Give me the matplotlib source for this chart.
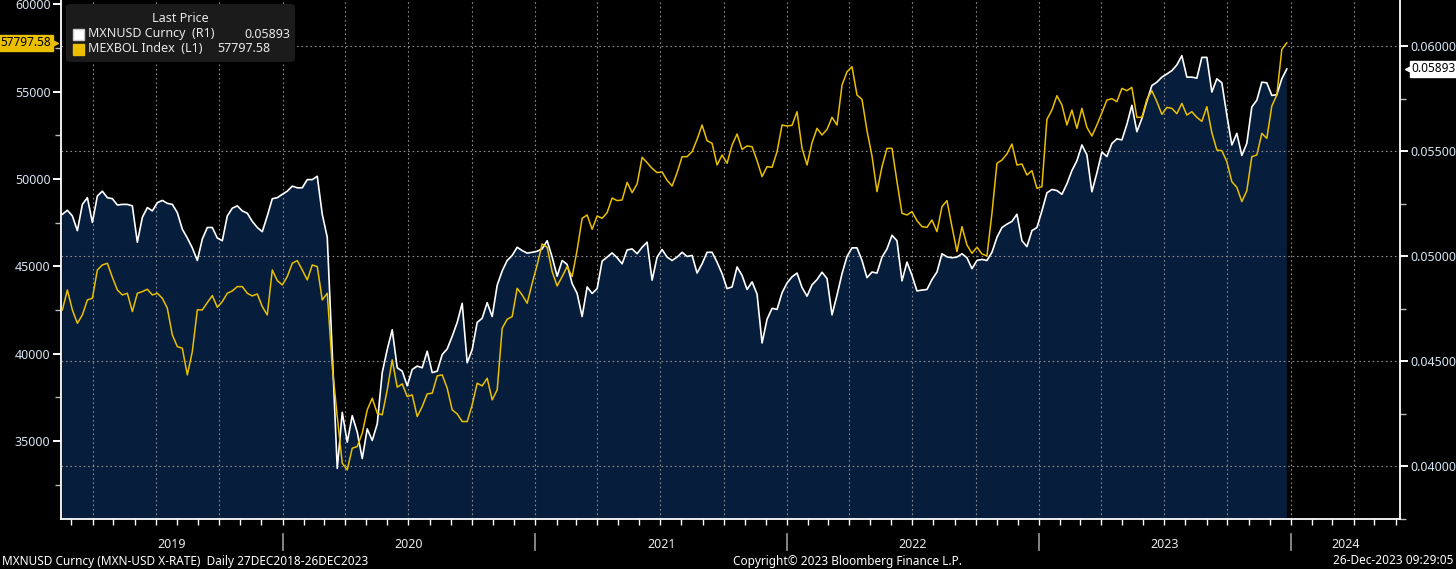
import pandas as pd
import matplotlib
matplotlib.use("Agg")
import matplotlib.pyplot as plt
import matplotlib.dates as mdates
import matplotlib.transforms as mtransforms
from matplotlib.patches import FancyBboxPatch, Rectangle

plt.rcParams['font.family'] = ['Noto Sans', 'DejaVu Sans']

# MXNUSD Curncy (right axis), roughly weekly readings
mxnusd = [
    0.05201, 0.05220, 0.05193, 0.05123, 0.05248, 0.05280, 0.05162, 0.05288, 0.05311, 0.05280,
    0.05275, 0.05245, 0.05248, 0.05248, 0.05241, 0.05068, 0.05186, 0.05233, 0.05217, 0.05256,
    0.05267, 0.05253, 0.05248, 0.05209, 0.05130, 0.05088, 0.05041, 0.04981, 0.05083, 0.05138,
    0.05138, 0.05088, 0.05075, 0.05193, 0.05230, 0.05241, 0.05217, 0.05206, 0.05167, 0.05138,
    0.05118, 0.05193, 0.05275, 0.05280, 0.05296, 0.05311, 0.05335, 0.05327, 0.05327, 0.05366,
    0.05366, 0.05382, 0.05201, 0.05091, 0.04541, 0.03991, 0.04258, 0.04116, 0.04242, 0.04164,
    0.04038, 0.04179, 0.04124, 0.04203,
    0.04447, 0.04557, 0.04651, 0.04470, 0.04454, 0.04384, 0.04462, 0.04478, 0.04470, 0.04549,
    0.04447, 0.04454, 0.04533, 0.04560, 0.04620, 0.04686, 0.04777, 0.04494, 0.04557, 0.04686,
    0.04706, 0.04780, 0.04714, 0.04863, 0.04931, 0.04981, 0.05005, 0.05044, 0.05028, 0.05016,
    0.05020, 0.05025, 0.05036, 0.05075, 0.04997, 0.04906, 0.04981, 0.04962, 0.04871, 0.04824,
    0.04714, 0.04855, 0.04824, 0.04847, 0.04978, 0.04997, 0.05017, 0.04994, 0.04965, 0.05031,
    0.05036, 0.05013, 0.05044, 0.05068, 0.04887, 0.04997, 0.05033, 0.04997, 0.04981, 0.04997,
    0.05020, 0.05000,
    0.05005, 0.04921, 0.04965, 0.05020, 0.05020, 0.04973, 0.04918, 0.04847, 0.04855, 0.04950,
    0.04910, 0.04843, 0.04879, 0.04821, 0.04588, 0.04701, 0.04753, 0.04748, 0.04827, 0.04874,
    0.04903, 0.04921, 0.04852, 0.04811, 0.04865, 0.04890, 0.04925, 0.04895, 0.04722, 0.04816,
    0.04918, 0.05000, 0.05041, 0.05041, 0.04981, 0.04899, 0.04926, 0.04921, 0.04997, 0.05036,
    0.05101, 0.05075, 0.04884, 0.04973, 0.04910, 0.04836, 0.04840, 0.04843, 0.04890, 0.04926,
    0.05013, 0.04998, 0.04994, 0.04997, 0.05013, 0.04994, 0.04942, 0.04981, 0.04986, 0.04981,
    0.05020, 0.05091,
    0.05138, 0.05154, 0.05167, 0.05201, 0.05075, 0.05047, 0.05123, 0.05138, 0.05217, 0.05303,
    0.05319, 0.05314, 0.05296, 0.05346, 0.05409, 0.05456, 0.05531, 0.05484, 0.05308, 0.05398,
    0.05497, 0.05476, 0.05538, 0.05560, 0.05555, 0.05629, 0.05720, 0.05594, 0.05657, 0.05739,
    0.05814, 0.05830, 0.05854, 0.05869, 0.05885, 0.05912, 0.05956, 0.05854, 0.05854, 0.05849,
    0.05948, 0.05948, 0.05783, 0.05846, 0.05827, 0.05673, 0.05531, 0.05586, 0.05481, 0.05539,
    0.05712, 0.05744, 0.05830, 0.05827, 0.05767, 0.05770, 0.05846, 0.05893,
]

# MEXBOL Index (left axis)
mexbol = [
    42502, 43646, 42502, 41738, 42215, 43074, 43169, 44791, 45077, 45173,
    44371, 43646, 43360, 43456, 42406, 43456, 43551, 43685, 43360, 43456,
    43169, 42597, 41071, 40403, 40307, 38781, 40117, 42502, 42502, 42921,
    43322, 42654, 42979, 43456, 43589, 43837, 43837, 43456, 43303, 43417,
    42692, 42215, 44791, 44181, 43933, 44410, 45173, 45325, 44791, 44219,
    45077, 44982, 43074, 43456, 39258, 36396, 33725, 33343, 34583, 34679,
    35442, 36778, 37445, 36587,
    36491, 37922, 39640, 38075, 38266, 37541, 37636, 36396, 36968, 37693,
    37732, 38724, 38781, 38018, 36778, 36549, 36110, 36110, 37064, 38304,
    38151, 38590, 37350, 37922, 41452, 41967, 42120, 43742, 43360, 42883,
    44028, 45077, 46279, 46089, 44696, 43875, 44410, 44982, 44410, 45936,
    47749, 47939, 47119, 47882, 47749, 48073, 48912, 48760, 48798, 49809,
    49218, 49714, 51240, 50935, 50611, 50363, 50401, 49924, 49599, 50363,
    51278, 51278,
    51565, 52271, 53091, 52194, 52042, 50801, 51374, 50897, 51946, 52576,
    51698, 51889, 51851, 51049, 50134, 50706, 50668, 51565, 53091, 53034,
    53072, 53854, 51755, 50801, 52080, 52900, 52519, 52843, 53530, 53091,
    55381, 56140, 56430, 54808, 54560, 52767, 51317, 49275, 50706, 51755,
    51755, 49847, 48035, 47939, 48130, 47615, 47272, 47233, 47653, 46985,
    48416, 48760, 47272, 45841, 47272, 46222, 45745, 46089, 45707, 45593,
    48035, 50897,
    51088, 51431, 52003, 50801, 50859, 50229, 50477, 49466, 49561, 53415,
    53950, 54770, 54236, 53091, 53950, 52900, 54045, 52957, 52461, 53091,
    53797, 54522, 54598, 54427, 55190, 55056, 55247, 53530, 53530, 54560,
    55056, 54427, 53702, 54102, 54045, 53740, 54331, 53663, 53854, 53530,
    53301, 54140, 52652, 51660, 51622, 50992, 49847, 49523, 48703, 49332,
    51278, 51374, 52614, 52328, 54179, 54808, 57422, 57798,
]

first_day, last_day = '2019-02-16', '2023-12-26'
mxn_dates = pd.date_range(first_day, last_day, periods=len(mxnusd))
mex_dates = pd.date_range(first_day, last_day, periods=len(mexbol))

left_ticks = [35000, 40000, 45000, 50000, 55000, 60000]
right_ticks = [0.040, 0.045, 0.050, 0.055, 0.060]
years = [2019, 2020, 2021, 2022, 2023, 2024]
last_mxn_label = '0.05893'
last_mex_label = '57797.58'

W, H = 1456, 569
NAVY = '#061d3b'
YELLOW = '#e9bf00'
TICKTXT = '#d8e4f2'
GRID = '#8c8c8c'

def fx(px):
    return px / W

def fy(py):
    return 1 - py / H

fig = plt.figure(figsize=(W / 100, H / 100), dpi=100, facecolor='black')
ax = fig.add_axes([fx(61), fy(519), (1400 - 61) / W, 519 / H])
ax2 = ax.twinx()
ax.set_zorder(ax2.get_zorder() + 1)
ax.patch.set_visible(False)
ax2.patch.set_facecolor('black')

xmin, xmax = pd.Timestamp('2019-02-14'), pd.Timestamp('2024-06-07')
ax.set_xlim(xmin, xmax)
ax.set_ylim(30528, 60251)
ax2.set_ylim(0.037788, 0.062212)

# right axis: filled area + white line
ax2.fill_between(mxn_dates, mxnusd, 0.03, color=NAVY, lw=0, zorder=1)
ax2.plot(mxn_dates, mxnusd, color='white', lw=1.2, zorder=2)

# grid (dotted), horizontal at right ticks, vertical at quarters
for t in right_ticks:
    ax2.axhline(t, color=GRID, lw=0.8, ls=(0, (1.5, 2.5)), zorder=1.5)
for q in pd.date_range('2019-04-01', '2024-04-01', freq='QS'):
    ax2.axvline(q, color=GRID, lw=0.8, ls=(0, (1.5, 2.5)), zorder=1.5)

# left axis: yellow line
ax.plot(mex_dates, mexbol, color=YELLOW, lw=1.1, zorder=3)

for a in (ax, ax2):
    for s in a.spines.values():
        s.set_visible(False)
ax.spines['left'].set_visible(True)
ax.spines['bottom'].set_visible(True)
ax.spines['right'].set_visible(True)
for s in ('left', 'bottom', 'right'):
    ax.spines[s].set_color('white')
    ax.spines[s].set_linewidth(1.3)

ax.set_yticks(left_ticks)
ax.set_yticks([v + 2500 for v in left_ticks[:-1]] + [32500], minor=True)
ax.yaxis.set_major_formatter(matplotlib.ticker.FormatStrFormatter('%d'))
ax.tick_params(axis='y', which='major', colors='white', labelcolor=TICKTXT,
               length=6, width=1.4, pad=1.5, labelsize=9)
ax.tick_params(axis='y', which='minor', colors='#bbbbbb', length=4, width=1)

ax2.set_yticks(right_ticks)
ax2.set_yticks([v + 0.0025 for v in right_ticks[:-1]] + [0.0375], minor=True)
ax2.yaxis.set_major_formatter(matplotlib.ticker.FormatStrFormatter('%.5f'))
ax2.tick_params(axis='y', which='major', colors='white', labelcolor=TICKTXT,
                length=6, width=1.4, pad=1.5, labelsize=9)
ax2.tick_params(axis='y', which='minor', colors='#bbbbbb', length=4, width=1)

ax.xaxis.set_major_locator(mdates.MonthLocator())
ax.xaxis.set_major_formatter(matplotlib.ticker.NullFormatter())
ax.tick_params(axis='x', colors='white', length=4, width=1)

# year separators and centred year labels below the axis
bt = mtransforms.blended_transform_factory(ax.transData, ax.transAxes)
for yr in years:
    y0 = pd.Timestamp(f'{yr}-01-01')
    y1 = pd.Timestamp(f'{yr + 1}-01-01')
    if xmin < y0 < xmax:
        ax.plot([y0, y0], [-0.029, -0.060], color='#9a9a9a', lw=1.2,
                transform=bt, clip_on=False)
    lo, hi = max(y0, xmin), min(y1, xmax)
    mid = lo + (hi - lo) / 2
    ax.text(mid, -0.05, str(yr), transform=bt, ha='center', va='center',
            color='#e8e8e8', fontsize=9)

# last value tags
lt = mtransforms.blended_transform_factory(ax.transAxes, ax.transData)
ax.text(-0.0075, mexbol[-1], last_mex_label, transform=lt, ha='right', va='center',
        fontsize=8.5, color='black', clip_on=False, zorder=10,
        bbox=dict(boxstyle='square,pad=0.15', fc=YELLOW, ec=YELLOW))
ax.plot([-0.0045], [mexbol[-1]], marker='>', ms=5, color=YELLOW, transform=lt,
        clip_on=False, zorder=10)
rt = mtransforms.blended_transform_factory(ax2.transAxes, ax2.transData)
ax2.text(1.0085, mxnusd[-1], last_mxn_label, transform=rt, ha='left', va='center',
         fontsize=8.5, color='black', clip_on=False, zorder=10,
         bbox=dict(boxstyle='square,pad=0.15', fc='white', ec='white'))
ax2.plot([1.0058], [mxnusd[-1]], marker='<', ms=5, color='white', transform=rt,
         clip_on=False, zorder=10)

# legend panel
fig.patches.append(FancyBboxPatch((fx(66), fy(62)), (295 - 66) / W, 58 / H,
                                  boxstyle='round,pad=0,rounding_size=0.004',
                                  transform=fig.transFigure, fc='#1b1b1b',
                                  ec='none', zorder=5))
fig.text(fx(180), fy(18), 'Last Price', ha='center', va='center',
         color='#e8e8e8', fontsize=9, zorder=6)
fig.patches.append(Rectangle((fx(73), fy(40)), 11 / W, 11 / H,
                             transform=fig.transFigure, fc='white', ec='#cccccc',
                             zorder=6))
fig.patches.append(Rectangle((fx(73), fy(55)), 11 / W, 11 / H,
                             transform=fig.transFigure, fc=YELLOW, ec=YELLOW,
                             zorder=6))
fig.text(fx(88), fy(34), 'MXNUSD Curncy  (R1)', ha='left', va='center',
         color='#e8e8e8', fontsize=9, zorder=6)
fig.text(fx(244), fy(34), last_mxn_label, ha='left', va='center',
         color='#e8e8e8', fontsize=9, zorder=6)
fig.text(fx(88), fy(49), 'MEXBOL Index  (L1)', ha='left', va='center',
         color='#e8e8e8', fontsize=9, zorder=6)
fig.text(fx(217), fy(49), last_mex_label, ha='left', va='center',
         color='#e8e8e8', fontsize=9, zorder=6)

# footer
fig.text(fx(2), fy(561), 'MXNUSD Curncy (MXN-USD X-RATE)  Daily 27DEC2018-26DEC2023',
         ha='left', va='center', color='white', fontsize=8.5)
fig.text(fx(733), fy(561), 'Copyright\u00a9 2023 Bloomberg Finance L.P.',
         ha='left', va='center', color='white', fontsize=8.5)
fig.text(fx(1453), fy(561), '26-Dec-2023 09:29:05',
         ha='right', va='center', color='white', fontsize=8.5)

fig.savefig('out.png', dpi=100, facecolor='black')
